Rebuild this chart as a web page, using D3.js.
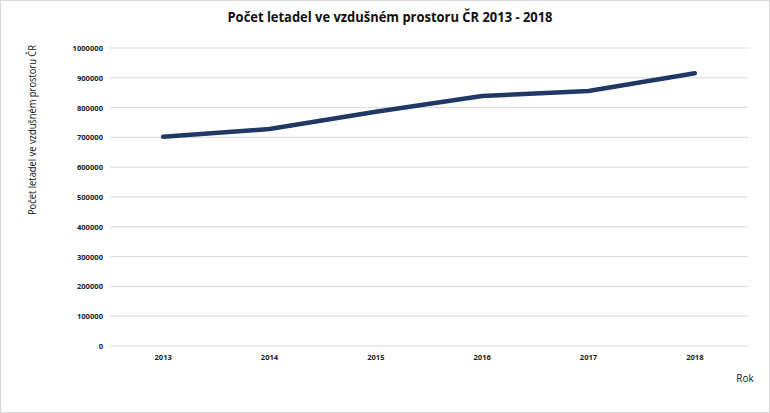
<!DOCTYPE html>
<html><head><meta charset="utf-8">
<script src="https://cdn.jsdelivr.net/npm/d3@7"></script>
<style>body{margin:0;background:#fff}svg{display:block}</style>
</head><body>
<svg id="c" width="770" height="413"></svg>
<script>
const years = ["2013","2014","2015","2016","2017","2018"];
const aircraft = [702000, 728000, 786000, 839000, 856000, 915000];
const yTicks = [0,100000,200000,300000,400000,500000,600000,700000,800000,900000,1000000];
const title = "Počet letadel ve vzdušném prostoru ČR 2013 - 2018";
const yTitle = "Počet letadel ve vzdušném prostoru ČR";
const xTitle = "Rok";

const svg = d3.select("#c");
const font = "'Open Sans', 'Liberation Sans', sans-serif";
svg.append("rect").attr("x",0.5).attr("y",0.5).attr("width",769).attr("height",412)
  .attr("fill","#fff").attr("stroke","#d9d9d9");

const m = {l:110, r:748, t:48, b:346};
const x = d3.scaleBand().domain(years).range([m.l, m.r]);
const y = d3.scaleLinear().domain([0,1000000]).range([m.b, m.t]);

// grid
svg.append("g").selectAll("line").data(yTicks).join("line")
  .attr("x1",m.l).attr("x2",m.r)
  .attr("y1",d=>y(d)).attr("y2",d=>y(d))
  .attr("stroke","#d9d9d9").attr("stroke-width",1);

// y axis labels
const ya = svg.append("g").attr("transform",`translate(${m.l-7},0)`)
  .call(d3.axisLeft(y).tickValues(yTicks).tickSize(0).tickPadding(0).tickFormat(d3.format("d")));
ya.select(".domain").remove();
ya.selectAll("text").attr("font-family",font).attr("font-size",7.6).attr("font-weight","bold").attr("fill","#222");

// x axis labels
const xa = svg.append("g").attr("transform",`translate(0,${m.b})`)
  .call(d3.axisBottom(x).tickSize(0).tickPadding(9));
xa.select(".domain").remove();
xa.selectAll("text").attr("font-family",font).attr("font-size",7.6).attr("font-weight","bold").attr("fill","#222");

// line
const line = d3.line().x((d,i)=>x(years[i])+x.bandwidth()/2).y(d=>y(d));
svg.append("path").datum(aircraft).attr("d",line)
  .attr("fill","none").attr("stroke","#203864").attr("stroke-width",4.5)
  .attr("stroke-linecap","round").attr("stroke-linejoin","round");

// titles
svg.append("text").attr("x",390).attr("y",22).attr("text-anchor","middle")
  .attr("font-family",font).attr("font-size",14.5).attr("font-weight","bold").attr("fill","#111")
  .attr("textLength",325).attr("lengthAdjust","spacingAndGlyphs").text(title);
svg.append("text").attr("transform","translate(36,130) rotate(-90)").attr("text-anchor","middle")
  .attr("font-family",font).attr("font-size",10.5).attr("fill","#111")
  .attr("textLength",170).attr("lengthAdjust","spacingAndGlyphs").text(yTitle);
svg.append("text").attr("x",745).attr("y",382).attr("text-anchor","middle")
  .attr("font-family",font).attr("font-size",10).attr("fill","#111").text(xTitle);
</script>
</body></html>
